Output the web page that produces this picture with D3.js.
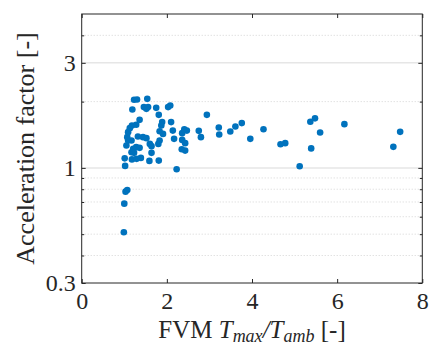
<!DOCTYPE html>
<html>
<head>
<meta charset="utf-8">
<script src="https://cdn.jsdelivr.net/npm/d3@7"></script>
<style>
  body { margin: 0; background: #fff; }
  text { font-family: "Liberation Serif", "DejaVu Serif", serif; fill: #262626; }
</style>
</head>
<body>
<div id="chartContainer"></div>
<script>
// FVM temperature ratio (x) vs acceleration factor (y)
var tempRatio = [
  0.99, 1.00, 1.03, 1.07, 1.02, 1.01, 1.18, 1.29, 1.39, 1.59,
  1.81, 1.17, 1.23, 1.64, 1.05, 1.21, 1.28, 1.36, 1.60, 1.64,
  1.80, 1.09, 1.17, 1.44, 1.52, 1.07, 1.83, 2.17, 1.32, 1.09,
  1.83, 1.91, 2.14, 1.13, 1.18, 1.28, 1.89, 1.87, 2.10, 1.36,
  1.81, 1.19, 1.46, 1.52, 1.56, 1.75, 2.03, 2.08, 1.23, 1.30,
  1.54, 2.23, 2.36, 2.41, 2.47, 2.36, 2.43, 2.35, 2.43, 2.75,
  2.80, 2.94, 3.22, 3.23, 3.49, 3.61, 3.76, 3.96, 4.27, 4.67,
  4.78, 5.12, 5.39, 5.37, 5.48, 5.60, 6.17, 7.32, 7.48
];
var accelFactor = [
  0.510, 0.688, 0.780, 0.794, 1.021, 1.105, 1.093, 1.099, 1.110, 1.076,
  1.079, 1.178, 1.170, 1.170, 1.263, 1.220, 1.242, 1.233, 1.285, 1.255,
  1.285, 1.331, 1.331, 1.379, 1.365, 1.379, 1.331, 1.355, 1.388, 1.453,
  1.468, 1.427, 1.477, 1.515, 1.557, 1.569, 1.614, 1.557, 1.614, 1.653,
  1.741, 1.841, 1.888, 1.854, 1.888, 1.874, 1.888, 1.920, 2.038, 2.044,
  2.059, 0.986, 1.438, 1.499, 1.477, 1.340, 1.295, 1.216, 1.198, 1.473,
  1.379, 1.741, 1.525, 1.417, 1.462, 1.541, 1.597, 1.355, 1.499, 1.281,
  1.295, 1.018, 1.226, 1.619, 1.679, 1.447, 1.580, 1.246, 1.458
];

var xTicks = [0, 2, 4, 6, 8];
var yTicks = [0.3, 1, 3];
var yMinorTicks = [0.4, 0.5, 0.6, 0.7, 0.8, 0.9, 2, 4];

var width = 429;
var height = 349;
var margin = {top: 14, right: 6.7, bottom: 66, left: 81.7};

var svg = d3.select('#chartContainer')
    .append('svg')
    .attr('width', width)
    .attr('height', height);

var xScale = d3.scaleLinear().domain([0, 8]).range([margin.left, width - margin.right]);
var yScale = d3.scaleLog().domain([0.3, 5]).range([height - margin.bottom, margin.top]);

var x0 = margin.left, x1 = width - margin.right;
var y0 = height - margin.bottom, y1 = margin.top;

/*** grid lines, only horizontal ***/
var grid = svg.append('g').classed('grid', true);
grid.selectAll('line.minor')
    .data(yMinorTicks)
    .enter().append('line')
    .attr('class', 'minor')
    .attr('x1', x0).attr('x2', x1)
    .attr('y1', function(d) { return yScale(d); })
    .attr('y2', function(d) { return yScale(d); })
    .style('stroke', '#d4d4d4')
    .style('stroke-width', 1)
    .style('stroke-dasharray', '1,2');

grid.selectAll('line.major')
    .data(yTicks.filter(function(d) { return d > 0.3; }))
    .enter().append('line')
    .attr('class', 'major')
    .attr('x1', x0).attr('x2', x1)
    .attr('y1', function(d) { return yScale(d); })
    .attr('y2', function(d) { return yScale(d); })
    .style('stroke', '#e6e6e6')
    .style('stroke-width', 1.5);

/*** points ***/
var points = tempRatio.map(function(d, i) { return [d, accelFactor[i]]; });
svg.append('g').classed('points', true)
    .selectAll('circle')
    .data(points)
    .enter().append('circle')
    .attr('cx', function(d) { return xScale(d[0]); })
    .attr('cy', function(d) { return yScale(d[1]); })
    .attr('r', 3.3)
    .style('fill', '#0072BD');

/*** axes, ticks pointing inwards, box on ***/
function styleAxis(g) {
  g.select('.domain').remove();
  g.selectAll('.tick line').style('stroke', '#262626');
  g.selectAll('.tick text')
    .style('font-size', '24px')
    .style('fill', '#262626')
    .style('font-family', '"Liberation Serif", serif');
}

var xAxisGroup = svg.append('g').attr('transform', 'translate(0,' + y0 + ')');
d3.axisBottom(xScale).tickValues(xTicks).tickSizeInner(-4).tickSizeOuter(0)
    .tickPadding(9).tickFormat(d3.format('d'))(xAxisGroup);
styleAxis(xAxisGroup);

var xTopGroup = svg.append('g').attr('transform', 'translate(0,' + y1 + ')');
d3.axisTop(xScale).tickValues(xTicks).tickSizeInner(-4).tickSizeOuter(0)
    .tickFormat('')(xTopGroup);
styleAxis(xTopGroup);

var yAxisGroup = svg.append('g').attr('transform', 'translate(' + x0 + ',0)');
d3.axisLeft(yScale).tickValues(yTicks).tickSizeInner(-4).tickSizeOuter(0)
    .tickPadding(6).tickFormat(function(d) { return d; })(yAxisGroup);
styleAxis(yAxisGroup);

var yRightGroup = svg.append('g').attr('transform', 'translate(' + x1 + ',0)');
d3.axisRight(yScale).tickValues(yTicks).tickSizeInner(-4).tickSizeOuter(0)
    .tickFormat('')(yRightGroup);
styleAxis(yRightGroup);

// minor ticks on both sides
var yMinorLeft = svg.append('g').attr('transform', 'translate(' + x0 + ',0)');
d3.axisLeft(yScale).tickValues(yMinorTicks).tickSizeInner(-2.5).tickSizeOuter(0)
    .tickFormat('')(yMinorLeft);
styleAxis(yMinorLeft);
var yMinorRight = svg.append('g').attr('transform', 'translate(' + x1 + ',0)');
d3.axisRight(yScale).tickValues(yMinorTicks).tickSizeInner(-2.5).tickSizeOuter(0)
    .tickFormat('')(yMinorRight);
styleAxis(yMinorRight);

// box
svg.append('rect')
    .attr('x', x0).attr('y', y1)
    .attr('width', x1 - x0).attr('height', y0 - y1)
    .style('fill', 'none')
    .style('stroke', '#262626')
    .style('stroke-width', 1);

/*** labels ***/
var xLabel = svg.append('text')
    .attr('x', (x0 + x1) / 2)
    .attr('y', 338)
    .attr('text-anchor', 'middle')
    .style('font-size', '25px');
xLabel.append('tspan').text('FVM ');
xLabel.append('tspan').style('font-style', 'italic').text('T');
xLabel.append('tspan').style('font-style', 'italic').style('font-size', '18px').attr('dy', 4).text('max');
xLabel.append('tspan').style('font-style', 'italic').attr('dy', -4).text('/T');
xLabel.append('tspan').style('font-style', 'italic').style('font-size', '18px').attr('dy', 4).text('amb');
xLabel.append('tspan').attr('dy', -4).text('  [-]');

svg.append('text')
    .attr('transform', 'translate(34,' + ((y0 + y1) / 2) + ') rotate(-90)')
    .attr('text-anchor', 'middle')
    .style('font-size', '26px')
    .text('Acceleration factor [-]');
</script>
</body>
</html>
